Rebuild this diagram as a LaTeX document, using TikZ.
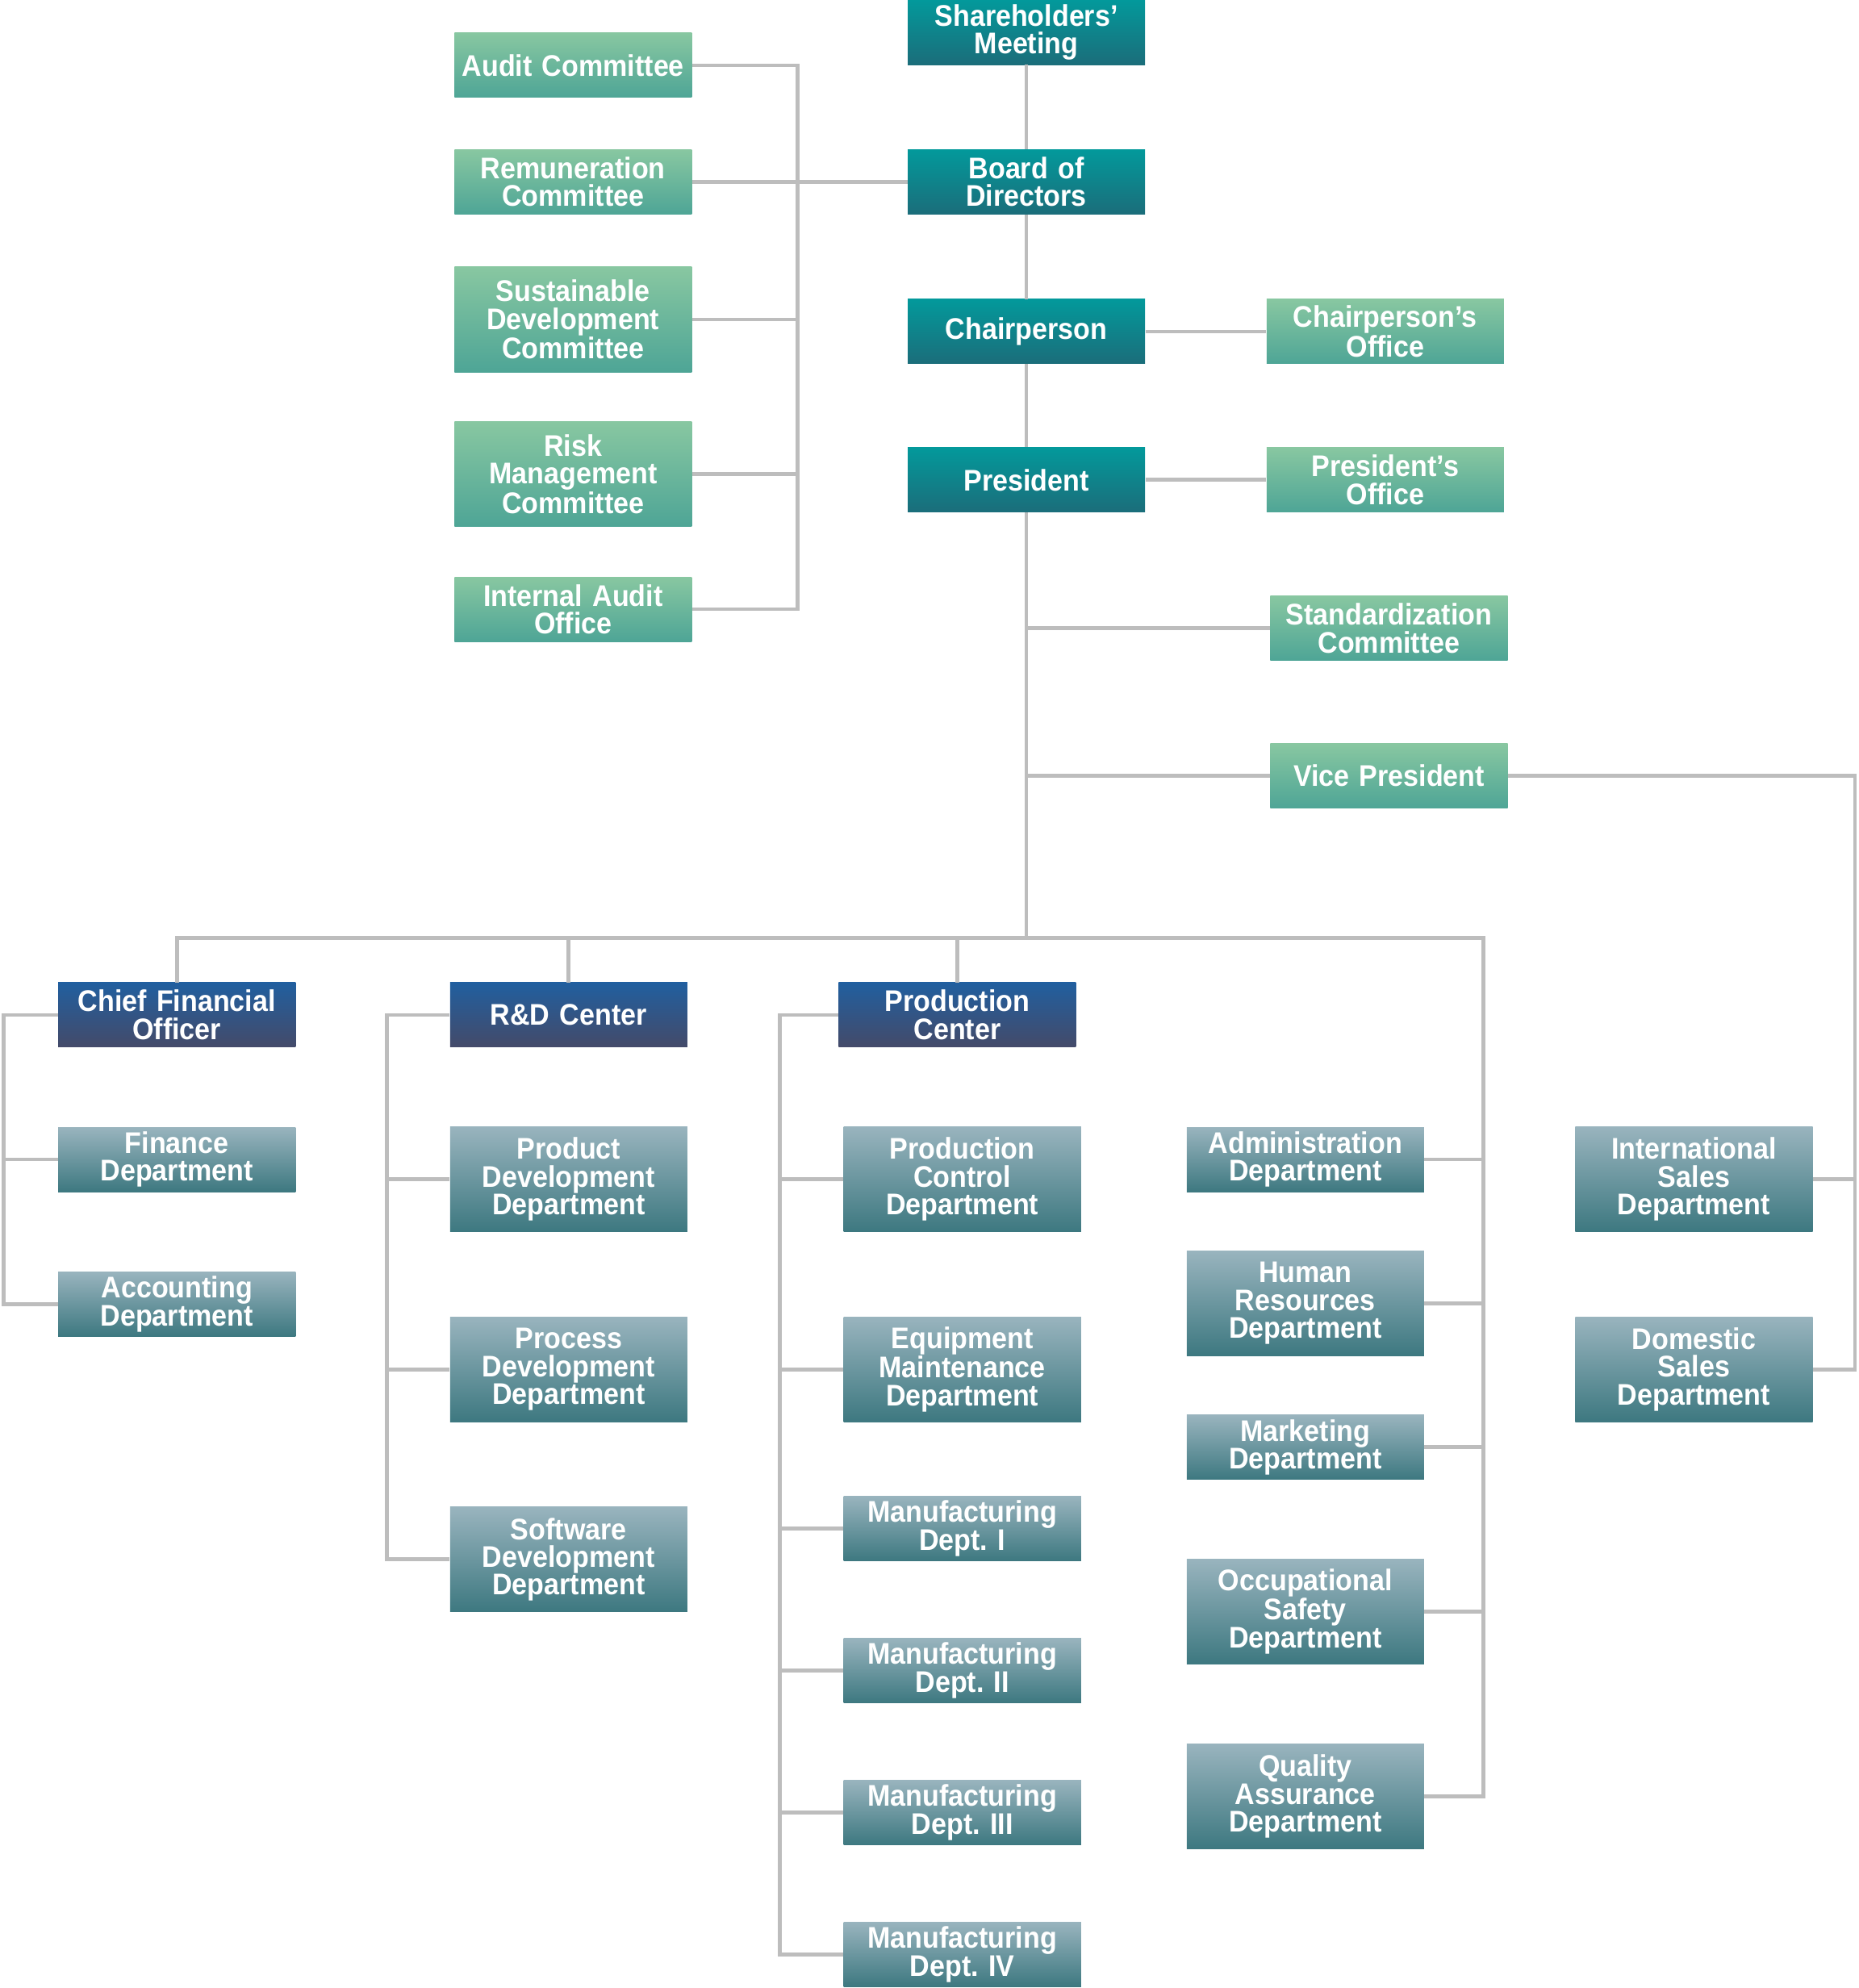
\documentclass[tikz,border=0pt]{standalone}
\usepackage{fontspec}
\setmainfont{Liberation Sans}[FakeStretch=0.92,WordSpace=0.85]
\definecolor{tealT}{HTML}{03999B}
\definecolor{tealB}{HTML}{1B6D7A}
\definecolor{grnT}{HTML}{88C7A1}
\definecolor{grnB}{HTML}{4EA596}
\definecolor{bluT}{HTML}{215F9F}
\definecolor{bluB}{HTML}{444A69}
\definecolor{depT}{HTML}{99B4BE}
\definecolor{depB}{HTML}{3D7880}
\definecolor{conn}{HTML}{BDBDBD}
\frenchspacing
\begin{document}
\begin{tikzpicture}[x=0.7855pt,y=-0.7855pt,
  box/.style={rectangle, inner sep=0pt, minimum width=147pt, text width=145pt,
    align=center, text=white, font=\bfseries\fontsize{18.5}{17.2}\selectfont},
  two/.style={minimum height=40pt},
  three/.style={minimum height=65pt},
  mainbox/.style={box, top color=tealT, bottom color=tealB},
  greenbox/.style={box, top color=grnT, bottom color=grnB},
  bluebox/.style={box, top color=bluT, bottom color=bluB},
  deptbox/.style={box, top color=depT, bottom color=depB},
  link/.style={draw=conn, line width=2.4pt}]
\useasboundingbox (0,0) rectangle (1466,1568);
% main chain
\node[mainbox,two] (sh) at (809.5,25.5) {Shareholders’\\Meeting};
\node[mainbox,two] (bod) at (809.5,143.5) {Board of\\Directors};
\node[mainbox,two] (chair) at (809.5,261.5) {Chairperson};
\node[mainbox,two] (pres) at (809.5,378.5) {President};
% offices
\node[greenbox,two] (chairoff) at (1092.5,261.5) {Chairperson’s\\Office};
\node[greenbox,two] (presoff) at (1092.5,378.5) {President’s\\Office};
\node[greenbox,two] (std) at (1095.5,495.5) {Standardization\\Committee};
\node[greenbox,two] (vp) at (1095.5,612) {Vice President};
% committees
\node[greenbox,two] (audit) at (452,51.5) {Audit Committee};
\node[greenbox,two] (remun) at (452,143.5) {Remuneration\\Committee};
\node[greenbox,three] (sust) at (452,252) {Sustainable\\Development\\Committee};
\node[greenbox,three] (risk) at (452,374) {Risk\\Management\\Committee};
\node[greenbox,two] (iao) at (452,480.5) {Internal Audit\\Office};
% centers
\node[bluebox,two] (cfo) at (139.5,800.5) {Chief Financial\\Officer};
\node[bluebox,two] (rd) at (448.5,800.5) {R\&D Center};
\node[bluebox,two] (prodc) at (755,800.5) {Production\\Center};
% CFO departments
\node[deptbox,two] (fin) at (139.5,914.5) {Finance\\Department};
\node[deptbox,two] (acc) at (139.5,1028.5) {Accounting\\Department};
% R&D departments
\node[deptbox,three] (pdd) at (448.5,930) {Product\\Development\\Department};
\node[deptbox,three] (prd) at (448.5,1080) {Process\\Development\\Department};
\node[deptbox,three] (sdd) at (448.5,1230) {Software\\Development\\Department};
% Production departments
\node[deptbox,three] (pcd) at (759,930) {Production\\Control\\Department};
\node[deptbox,three] (emd) at (759,1080) {Equipment\\Maintenance\\Department};
\node[deptbox,two] (m1) at (759,1205.5) {Manufacturing\\Dept. I};
\node[deptbox,two] (m2) at (759,1317.5) {Manufacturing\\Dept. II};
\node[deptbox,two] (m3) at (759,1429.5) {Manufacturing\\Dept. III};
\node[deptbox,two] (m4) at (759,1541.5) {Manufacturing\\Dept. IV};
% President-side departments
\node[deptbox,two] (adm) at (1029.5,914.5) {Administration\\Department};
\node[deptbox,three] (hr) at (1029.5,1028) {Human\\Resources\\Department};
\node[deptbox,two] (mkt) at (1029.5,1141.5) {Marketing\\Department};
\node[deptbox,three] (osd) at (1029.5,1271) {Occupational\\Safety\\Department};
\node[deptbox,three] (qa) at (1029.5,1417) {Quality\\Assurance\\Department};
% sales
\node[deptbox,three] (intl) at (1336,930) {International\\Sales\\Department};
\node[deptbox,three] (dom) at (1336,1080) {Domestic\\Sales\\Department};
% helper coordinates
\coordinate (cspine) at (629,250);
\coordinate (bus) at (809.5,740);
\coordinate (busR) at (1170,740);
\coordinate (salesx) at (1463,800);
\coordinate (cfox) at (3,900);
\coordinate (rdx) at (305,1000);
\coordinate (pcx) at (615,1200);
% connectors
\draw[link] (sh.south) -- (bod.north);
\draw[link] (bod.south) -- (chair.north);
\draw[link] (chair.south) -- (pres.north);
\draw[link] (pres.south) -- (bus);
\draw[link] (chair.east) -- (chairoff.west);
\draw[link] (pres.east) -- (presoff.west);
\draw[link] (std.west) -- (std.west -| pres.south);
\draw[link] (vp.west) -- (vp.west -| pres.south);
\draw[link] (vp.east) -| (salesx) |- (dom.east);
\draw[link] (intl.east) -- (intl.east -| salesx);
\draw[link] (bod.west) -- (remun.east);
\draw[link] (audit.east) -| (cspine) |- (iao.east);
\draw[link] (sust.east) -- (sust.east -| cspine);
\draw[link] (risk.east) -- (risk.east -| cspine);
\draw[link] (cfo.north) |- (busR) |- (qa.east);
\draw[link] (rd.north) -- (rd.north |- bus);
\draw[link] (prodc.north) -- (prodc.north |- bus);
\draw[link] (adm.east) -- (adm.east -| busR);
\draw[link] (hr.east) -- (hr.east -| busR);
\draw[link] (mkt.east) -- (mkt.east -| busR);
\draw[link] (osd.east) -- (osd.east -| busR);
\draw[link] (cfo.west) -| (cfox) |- (acc.west);
\draw[link] (fin.west) -- (fin.west -| cfox);
\draw[link] (rd.west) -| (rdx) |- (sdd.west);
\draw[link] (pdd.west) -- (pdd.west -| rdx);
\draw[link] (prd.west) -- (prd.west -| rdx);
\draw[link] (prodc.west) -| (pcx) |- (m4.west);
\draw[link] (pcd.west) -- (pcd.west -| pcx);
\draw[link] (emd.west) -- (emd.west -| pcx);
\draw[link] (m1.west) -- (m1.west -| pcx);
\draw[link] (m2.west) -- (m2.west -| pcx);
\draw[link] (m3.west) -- (m3.west -| pcx);
\end{tikzpicture}
\end{document}
